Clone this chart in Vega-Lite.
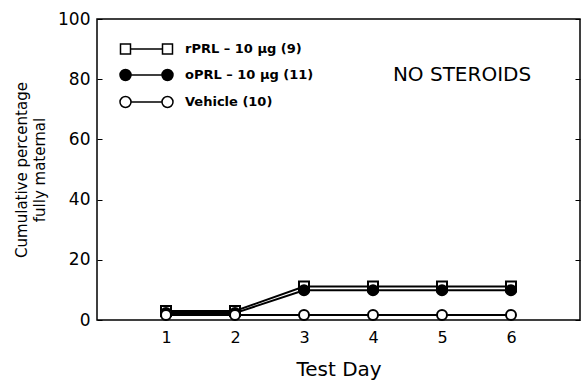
{
  "$schema": "https://vega.github.io/schema/vega-lite/v6.json",
  "width": 483,
  "height": 301,
  "autosize": {"type": "none"},
  "padding": {"left": 97, "top": 19, "right": 3, "bottom": 63},
  "background": "white",
  "config": {
    "view": {"stroke": "black", "strokeWidth": 1.5},
    "font": "DejaVu Sans",
    "axis": {"labelColor": "black", "titleColor": "black", "labelFont": "DejaVu Sans", "titleFont": "DejaVu Sans", "titleFontWeight": "normal", "grid": false}
  },
  "datasets": {
    "series": [
      {"day": 1, "pct": 3, "group": "rPRL – 10 μg (9)"},
      {"day": 2, "pct": 3, "group": "rPRL – 10 μg (9)"},
      {"day": 3, "pct": 11.1, "group": "rPRL – 10 μg (9)"},
      {"day": 4, "pct": 11.1, "group": "rPRL – 10 μg (9)"},
      {"day": 5, "pct": 11.1, "group": "rPRL – 10 μg (9)"},
      {"day": 6, "pct": 11.1, "group": "rPRL – 10 μg (9)"},
      {"day": 1, "pct": 2.3, "group": "oPRL – 10 μg (11)"},
      {"day": 2, "pct": 2.3, "group": "oPRL – 10 μg (11)"},
      {"day": 3, "pct": 9.9, "group": "oPRL – 10 μg (11)"},
      {"day": 4, "pct": 9.9, "group": "oPRL – 10 μg (11)"},
      {"day": 5, "pct": 9.9, "group": "oPRL – 10 μg (11)"},
      {"day": 6, "pct": 9.9, "group": "oPRL – 10 μg (11)"},
      {"day": 1, "pct": 1.7, "group": "Vehicle (10)"},
      {"day": 2, "pct": 1.7, "group": "Vehicle (10)"},
      {"day": 3, "pct": 1.7, "group": "Vehicle (10)"},
      {"day": 4, "pct": 1.7, "group": "Vehicle (10)"},
      {"day": 5, "pct": 1.7, "group": "Vehicle (10)"},
      {"day": 6, "pct": 1.7, "group": "Vehicle (10)"}
    ],
    "note": [{"day": 5.29, "pct": 81.5, "label": "NO STEROIDS"}]
  },
  "layer": [
    {
      "data": {"name": "series"},
      "mark": {"type": "line", "color": "black", "strokeWidth": 2},
      "encoding": {
        "x": {"field": "day", "type": "quantitative", "scale": {"domain": [0, 7], "nice": false},
          "axis": {"values": [1, 2, 3, 4, 5, 6], "format": "d", "ticks": false, "domain": false, "labelFontSize": 16, "labelPadding": 9, "title": "Test Day", "titleFontSize": 20, "titlePadding": 14}},
        "y": {"field": "pct", "type": "quantitative", "scale": {"domain": [0, 100], "nice": false},
          "axis": {"values": [0, 20, 40, 60, 80, 100], "tickSize": -5, "tickColor": "black", "domain": false, "labelFontSize": 17, "labelPadding": 12, "title": ["Cumulative percentage", "fully maternal"], "titleFontSize": 15, "titleLineHeight": 18, "titlePadding": 10}},
        "detail": {"field": "group"}
      }
    },
    {
      "data": {"name": "series"},
      "mark": {"type": "point", "stroke": "black", "strokeWidth": 2, "size": 100, "opacity": 1},
      "encoding": {
        "x": {"field": "day", "type": "quantitative"},
        "y": {"field": "pct", "type": "quantitative",
          "axis": {"orient": "right", "values": [0, 20, 40, 60, 80, 100], "tickSize": -5, "tickColor": "black", "domain": false, "labels": false, "title": null}},
        "shape": {"condition": {"test": "datum.group === 'rPRL – 10 μg (9)'", "value": "square"}, "value": "circle"},
        "fill": {"condition": {"test": "datum.group === 'oPRL – 10 μg (11)'", "value": "black"}, "value": "white"}
      }
    },
    {
      "data": {"name": "series"},
      "mark": {"type": "point", "filled": true, "size": 100, "opacity": 0},
      "encoding": {
        "x": {"field": "day", "type": "quantitative"},
        "y": {"field": "pct", "type": "quantitative", "axis": null},
        "fill": {"field": "group", "type": "nominal", "scale": {"domain": ["rPRL – 10 μg (9)", "oPRL – 10 μg (11)", "Vehicle (10)"], "range": ["white", "black", "white"]},
          "legend": {
            "orient": "none", "legendX": 38, "legendY": 18.5, "title": null, "padding": 0,
            "symbolSize": 441, "rowPadding": 6, "labelOffset": 27,
            "labelFontSize": 13, "labelFontWeight": "bold", "labelColor": "black", "labelFont": "DejaVu Sans",
            "symbolStrokeColor": "black", "symbolStrokeWidth": 1.5, "symbolOpacity": 1,
            "encode": {"symbols": {"update": {
              "shape": {"signal": "datum.value === 'rPRL – 10 μg (9)' ? 'M-2.476,-0.476 H-1.524 V0.476 H-2.476 Z M-1.524,0 H1.524 M1.524,-0.476 H2.476 V0.476 H1.524 Z' : 'M-1.476,0 A0.524,0.524 0 1,1 -2.524,0 A0.524,0.524 0 1,1 -1.476,0 Z M-1.476,0 H1.476 M2.524,0 A0.524,0.524 0 1,1 1.476,0 A0.524,0.524 0 1,1 2.524,0 Z'"},
              "stroke": {"value": "black"},
              "strokeWidth": {"value": 1.5},
              "opacity": {"value": 1}
            }}}
          }}
      }
    },
    {
      "data": {"name": "note"},
      "mark": {"type": "text", "fontSize": 20, "font": "DejaVu Sans", "color": "black"},
      "encoding": {
        "x": {"field": "day", "type": "quantitative"},
        "y": {"field": "pct", "type": "quantitative", "axis": null},
        "text": {"field": "label"}
      }
    }
  ],
  "resolve": {"axis": {"y": "independent"}}
}
